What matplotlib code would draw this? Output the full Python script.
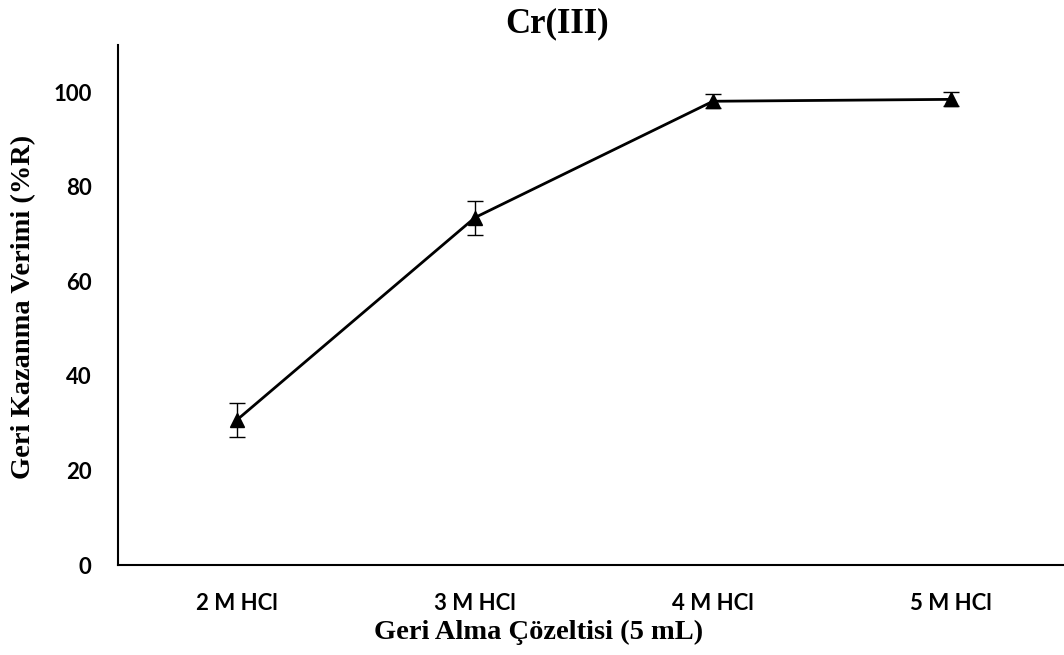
import matplotlib
matplotlib.use("Agg")
import matplotlib.pyplot as plt

categories = ["2 M HCl", "3 M HCl", "4 M HCl", "5 M HCl"]
recovery = [30.7, 73.5, 98.1, 98.5]
errors = [3.6, 3.6, 1.5, 1.5]
yticks = [0, 20, 40, 60, 80, 100]

fig = plt.figure(figsize=(10.64, 6.55), dpi=100)
W, H = 1064, 655
left, right, top, bottom = 118, 1070, 45, 565
ax = fig.add_axes([left / W, 1 - bottom / H, (right - left) / W, (bottom - top) / H])

x = list(range(len(categories)))
ax.errorbar(x, recovery, yerr=errors, color="black", lw=2.0, marker="^",
            markersize=10, ecolor="black", elinewidth=1.0, capsize=6,
            capthick=1.0, zorder=3)

ax.set_xlim(-0.5, 3.5)
ax.set_ylim(0, 110)
ax.set_yticks(yticks)
ax.set_xticks(x)
ax.set_xticklabels(categories)
for s in ["top", "right"]:
    ax.spines[s].set_visible(False)
for s in ["left", "bottom"]:
    ax.spines[s].set_linewidth(1.5)
ax.tick_params(axis="both", length=0, labelsize=16)
ax.tick_params(axis="y", pad=19)
ax.tick_params(axis="x", pad=20)
for lab in ax.get_xticklabels() + ax.get_yticklabels():
    lab.set_fontfamily("Lato")
    lab.set_fontweight("bold")

ax.set_xlabel("Geri Alma Çözeltisi (5 mL)", fontfamily="Liberation Serif",
              fontweight="bold", fontsize=20.5, va="center")
ax.xaxis.set_label_coords((539 - left) / (right - left), (bottom - 632) / (bottom - top))
ax.set_ylabel("Geri Kazanma Verimi (%R)", fontfamily="Liberation Serif",
              fontweight="bold", fontsize=20.5, va="center")
ax.yaxis.set_label_coords((24 - left) / (right - left), (bottom - 307) / (bottom - top))
fig.text(557 / W, 1 - 24 / H, "Cr(III)", fontfamily="Liberation Serif",
         fontweight="bold", fontsize=25, ha="center", va="center")

fig.savefig("out.png", dpi=100)
